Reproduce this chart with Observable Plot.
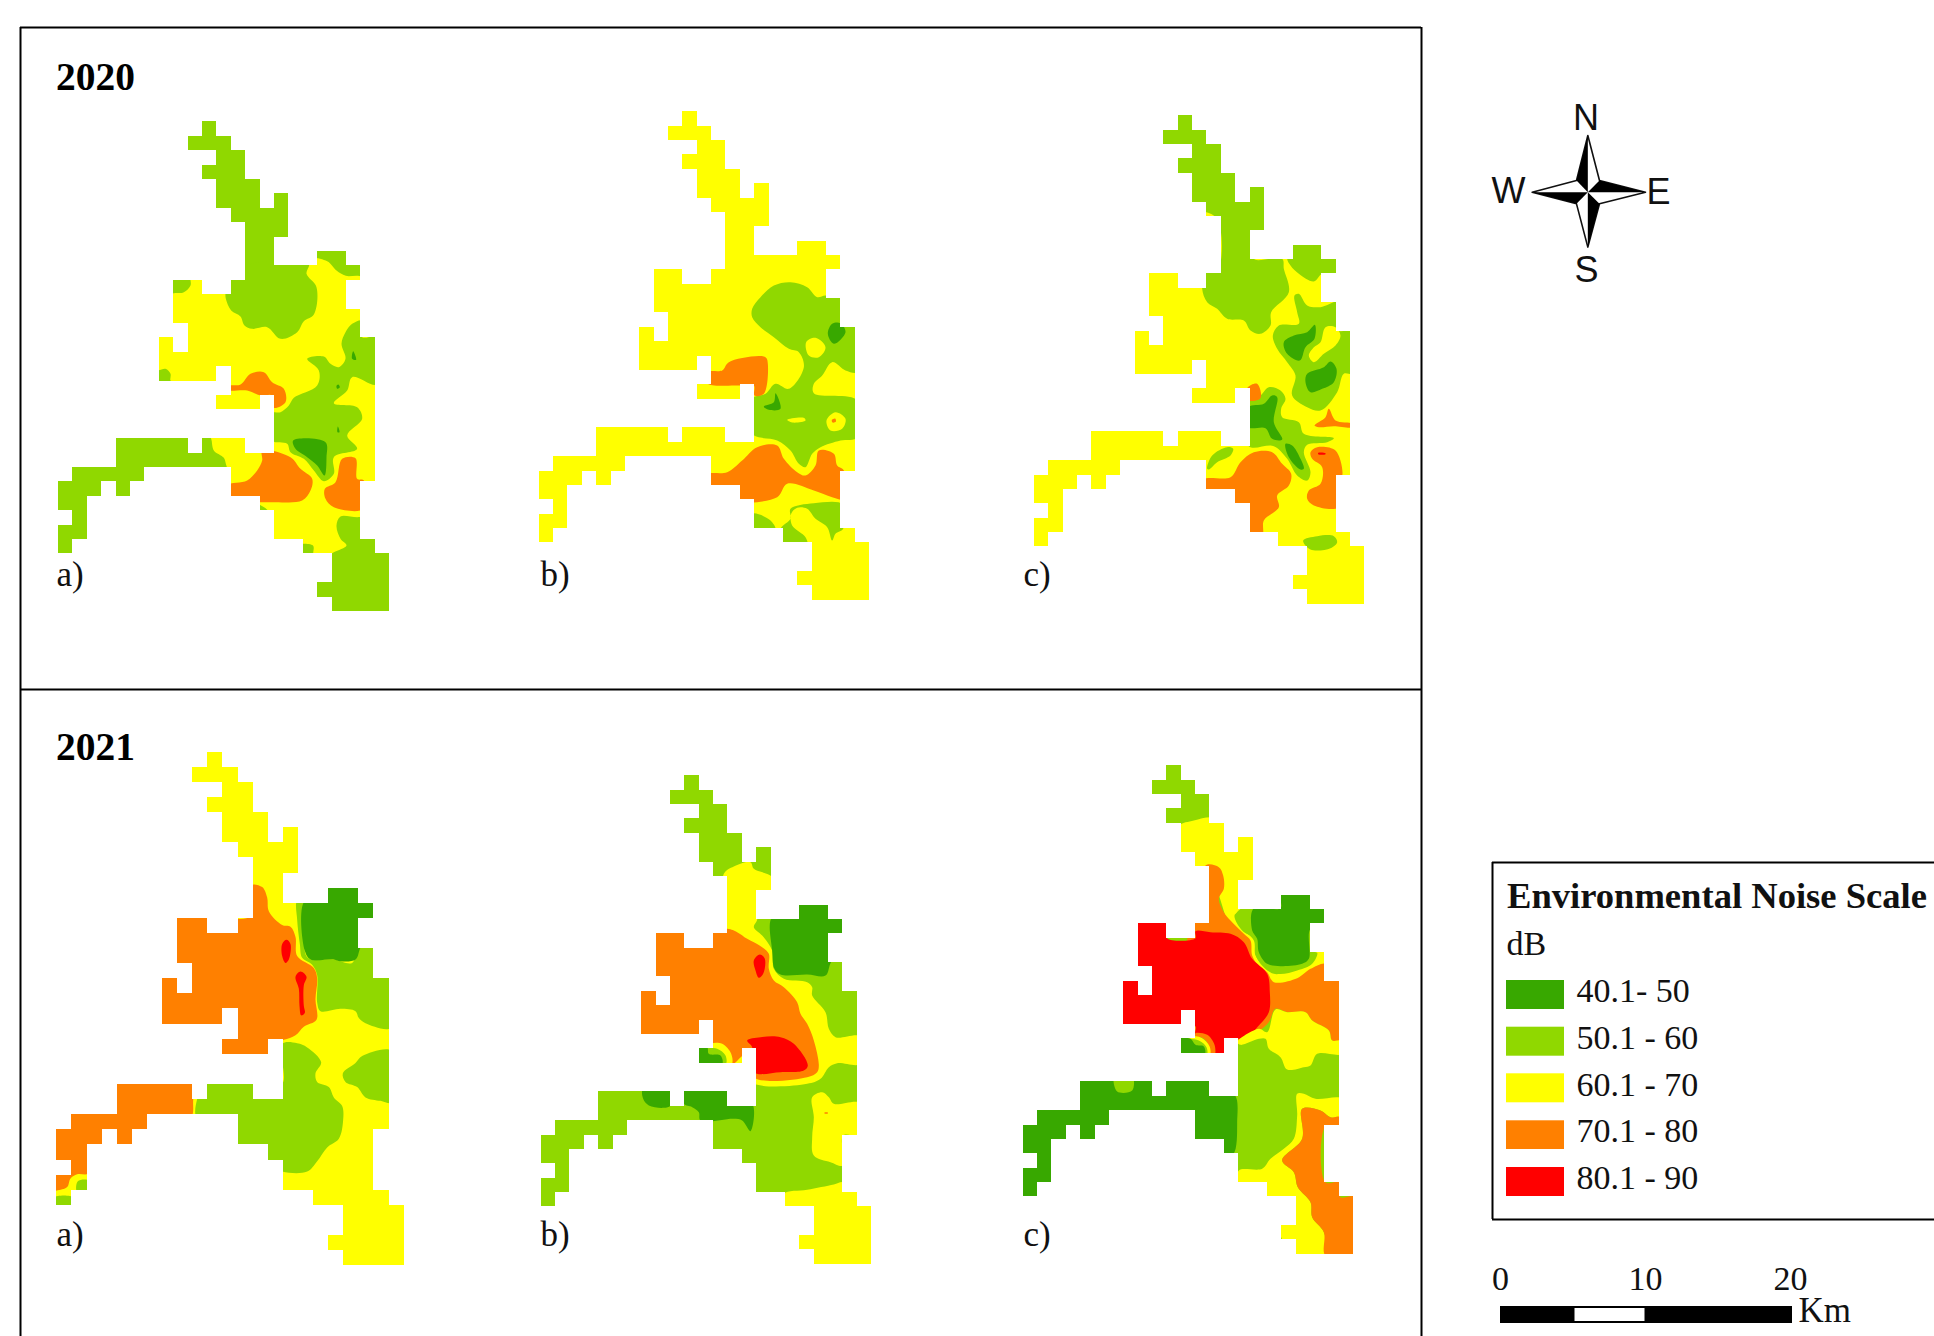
<!DOCTYPE html>
<html><head><meta charset="utf-8">
<script src="https://cdn.jsdelivr.net/npm/d3@7"></script>
<script src="https://cdn.jsdelivr.net/npm/@observablehq/plot@0.6"></script>
<style>html,body{margin:0;padding:0;background:#fff;overflow:hidden}svg{display:block}</style>
</head><body><div id="chart"></div>
<script>
// Noise classes
const levelLabels = ["40.1- 50","50.1 - 60","60.1 - 70","70.1 - 80","80.1 - 90"];
const levelColors = ["#38a800","#90d800","#ffff00","#ff8000","#ff0000"];

// Study-area outline: per grid row, the [start,end) runs of occupied grid columns
const outlineRuns = [
 [[10,11]],[[9,12]],[[11,13]],[[10,13]],[[11,14]],[[11,14],[15,16]],[[12,16]],[[13,16]],[[13,15]],
 [[13,15],[18,20]],[[13,21]],[[8,10],[12,20]],[[8,20]],[[8,21]],[[9,21]],[[7,8],[9,22]],[[7,22]],
 [[7,11],[12,22]],[[12,22]],[[11,14],[15,22]],[[15,22]],[[15,22]],[[4,9],[10,13],[15,22]],[[4,22]],
 [[1,6],[12,22]],[[0,3],[4,5],[12,21]],[[0,2],[14,21]],[[1,2],[15,21]],[[0,2],[15,21]],[[0,1],[17,22]],
 [[19,23]],[[19,23]],[[18,23]],[[19,23]]
];

// Zones: [level index, x,y, x,y, ...] in each map's own coordinates, painted in order
const zones2020a = [
 [2, 345,560,400,548,430,545,450,525,452,490,600,500,700,520,790,480,800,445,860,452,888,480,916,496,965,500,1015,600,1015,1120,965,1120,965,1216,900,1218,888,1245,900,1285,918,1305,880,1325,860,1335,820,1335,818,1306,787,1300,700,1295,690,1210,650,1180,560,1165,560,1075,556,1060,550,1042,520,1020,512,985,500,960,515,860,520,820,400,815,390,810,390,790,375,775,350,778,345,700],
 [1, 555,545,556,565,572,600,600,618,612,645,635,655,680,650,720,685,770,665,790,632,820,612,828,530,798,490,805,460,700,450,600,470,560,500],
 [1, 965,630,935,640,915,665,903,700,915,745,895,770,870,760,850,738,800,745,835,780,830,825,760,862,745,885,720,905,695,908,695,990,740,1000,750,1025,790,1045,820,1080,850,1112,880,1090,880,1040,950,1015,920,975,965,925,950,890,880,878,920,840,935,800,1010,822,1010,680,965,680],
 [0, 758,990,855,995,858,1040,852,1095,830,1065,800,1040,765,1015],
 [0, 938,722,947,748,935,745],[0, 888,826,893,822,898,830,890,835],[0, 892,948,897,965,891,965],
 [3, 560,826,600,822,630,790,670,785,695,815,730,835,735,875,700,892,695,855,660,855,620,840,560,838],
 [3, 560,1125,620,1110,650,1080,665,1050,665,1020,750,1040,780,1075,815,1105,810,1140,785,1170,700,1175,650,1175,560,1165],
 [3, 905,1045,945,1043,950,1105,970,1110,970,1195,880,1190,855,1165,853,1135,885,1115]
];
const zones2020b = [
 [1, 695,625,720,590,760,555,810,545,860,560,890,590,915,585,968,590,1012,680,1012,815,975,810,935,785,905,825,880,850,880,878,1012,900,1012,1010,960,1020,900,1040,875,1060,855,1100,835,1090,810,1050,770,1020,695,1000,695,895,735,880,765,850,805,865,850,800,835,755,805,745,760,710,720,680,695,650],
 [2, 857,725,885,712,915,740,895,770,865,765],
 [2, 918,960,945,935,975,955,965,985,930,990],
 [3, 934,958,944,954,946,964,936,966],
 [2, 800,958,850,952,855,960,815,966],
 [0, 935,670,960,668,975,695,940,730,922,700],
 [0, 730,918,760,905,765,878,780,925,745,928],
 [3, 560,815,605,810,625,785,735,770,742,790,730,880,702,885,700,855,650,855,560,848],
 [3, 560,1122,620,1115,665,1080,710,1040,770,1035,790,1075,830,1115,855,1125,885,1095,895,1050,940,1060,950,1095,970,1110,970,1195,935,1190,880,1170,800,1150,770,1190,660,1200,650,1160,560,1155],
 [1, 810,1225,880,1208,968,1212,968,1285,945,1300,935,1320,920,1280,885,1255,860,1225,830,1222,812,1240,815,1275,855,1310,860,1335,780,1335,780,1285,810,1255],
 [1, 695,1240,750,1260,765,1290,695,1292]
];
const zones2020c = [
 [1, 420,20,740,20,740,380,700,460,785,460,790,490,805,560,752,620,750,660,720,685,690,675,670,645,620,640,590,610,560,590,545,550,555,500,590,500,590,340,510,300,465,210,420,125],
 [1, 815,420,905,420,955,465,955,505,905,505,880,528,835,505,810,480,800,460],
 [1, 822,570,835,565,860,600,900,605,955,590,955,675,1000,675,1000,805,970,805,950,860,900,915,860,905,815,870,825,810,800,770,770,730,757,690,775,660,835,655,830,620],
 [2, 915,665,945,665,960,690,945,720,910,745,880,770,865,750,880,725,900,710],
 [0, 790,710,820,690,860,680,883,658,882,700,855,725,838,765,800,745],
 [0, 860,805,910,785,930,768,948,790,940,830,905,850,870,860,855,830],
 [1, 685,890,720,870,745,845,780,855,795,880,782,910,785,935,835,950,850,985,940,998,920,1010,860,1018,850,1040,870,1100,860,1125,830,1110,800,1060,760,1022,685,1022],
 [0, 685,905,730,895,755,870,770,875,760,950,785,1002,755,1000,735,968,685,965],
 [0, 795,1015,815,1020,840,1060,850,1090,840,1092,805,1055],
 [3, 680,848,710,835,720,878,680,884],
 [3, 882,960,915,935,925,910,945,945,995,955,995,965,940,962,895,965],
 [3, 870,1040,890,1025,945,1035,965,1110,955,1115,955,1205,880,1200,860,1180,865,1155,900,1135,905,1085,875,1060],
 [4, 893,1042,915,1043,915,1046,893,1046],
 [3, 550,1122,630,1115,660,1070,700,1040,755,1040,785,1075,812,1105,805,1140,770,1170,775,1205,730,1245,725,1290,685,1290,640,1200,640,1160,550,1160],
 [1, 560,1090,575,1050,620,1025,638,1030,630,1050,590,1070,565,1092],
 [1, 848,1305,890,1292,940,1292,950,1310,930,1328,870,1332]
];
const zones2021a = [
 [3, 630,420,665,425,680,455,685,495,725,535,750,540,765,570,770,625,820,660,830,690,825,750,828,810,790,830,765,855,730,868,695,870,690,920,535,920,535,830,355,830,355,680,405,510,630,510],
 [4, 725,590,738,578,750,590,745,635,735,645,725,625],
 [4, 765,685,780,670,798,685,790,710,790,770,793,790,782,797,777,770,775,720],
 [1, 770,465,795,465,795,620,810,635,880,635,935,645,955,598,1055,598,1055,832,975,820,955,805,945,785,900,778,840,785,830,760,830,680,815,650,785,630,778,590,770,520],
 [0, 793,465,860,465,855,415,965,415,960,465,1010,465,1005,520,960,600,945,635,900,640,880,635,810,635,793,610],
 [1, 725,880,770,878,800,890,842,933,825,965,830,990,865,1005,880,1035,905,1060,908,1100,895,1155,860,1180,830,1220,800,1250,725,1250,675,1225,675,1185,580,1180,580,1095,470,1095,470,1040,500,985,640,985,725,995],
 [1, 907,965,945,935,965,915,1055,900,1055,1050,1020,1045,975,1035,950,1005,915,990],
 [3, 220,990,458,990,458,1042,450,1095,330,1100,330,1140,285,1180,145,1180,145,1255,110,1258,90,1270,80,1295,49,1305,35,1305,35,1120,90,1075,220,1075],
 [1, 40,1326,100,1326,100,1360,40,1360],
 [1, 112,1278,145,1276,145,1310,110,1310]
];
const zones2021b = [
 [2, 610,340,640,318,690,305,700,325,755,350,760,400,710,420,710,478,700,500,725,525,755,570,760,625,790,655,860,665,875,680,875,705,915,755,925,805,945,830,1020,828,1020,910,950,908,925,920,900,955,860,970,700,970,620,910,610,850,600,515,610,440],
 [3, 620,505,650,515,680,535,725,560,745,580,745,625,760,660,790,680,830,725,840,760,860,790,880,840,895,915,890,935,860,950,700,950,690,870,630,915,630,880,605,855,578,860,540,825,355,825,355,690,400,515],
 [4, 680,840,720,830,780,830,820,850,862,915,850,930,780,935,700,935,695,860],
 [4, 700,600,718,582,733,595,728,640,715,652,705,630],
 [2, 570,848,605,850,632,880,632,915,530,915,530,860],
 [1, 555,862,590,865,615,885,615,912,530,912,530,862],
 [0, 530,860,560,860,565,880,600,885,605,912,530,912],
 [0, 755,470,830,470,830,420,935,420,930,470,980,470,975,520,930,608,915,645,860,642,780,642,762,625,755,570],
 [0, 368,985,450,985,450,1035,430,1042,385,1035,368,1015],
 [0, 490,985,625,985,625,1030,695,1030,690,1112,665,1080,640,1075,540,1080,535,1055,515,1040,490,1030],
 [2, 875,1010,905,995,925,1010,940,1030,1020,1028,1020,1125,968,1125,968,1215,930,1205,880,1185,875,1130,880,1070],
 [3, 912,1056,922,1056,922,1059,912,1059],
 [2, 790,1300,860,1288,940,1272,968,1265,1020,1295,1065,1340,1065,1520,880,1520,830,1470,830,1420,790,1340]
];
const zones2021c = [
 [2, 505,212,550,195,600,185,650,195,745,240,745,385,690,385,690,462,672,480,695,525,730,550,740,610,790,655,850,640,900,620,918,588,950,585,950,630,800,690,700,620,590,350,540,345,500,290],
 [3, 585,330,625,335,638,360,640,400,625,430,640,470,660,495,700,535,720,555,725,600,740,625,770,650,790,680,860,668,900,640,945,625,945,675,995,675,995,855,965,855,955,825,905,795,885,770,830,770,795,760,775,800,740,830,690,860,640,860,600,860,590,835,550,835,545,495,585,495],
 [4, 555,527,600,530,660,535,700,560,725,610,770,655,778,710,775,770,745,810,710,845,680,850,645,852,645,900,605,900,600,860,585,840,555,835,555,812,330,812,330,678,375,630,375,500,470,500,470,548,555,548],
 [2, 770,830,795,762,830,770,885,770,905,795,955,825,965,855,995,855,995,895,920,895,900,930,880,935,830,942,810,905,775,880,765,850,745,850,690,868,680,860,745,820],
 [1, 675,480,695,458,735,458,728,525,745,550,745,600,775,628,820,635,875,622,895,595,920,592,905,625,860,645,800,655,760,630,735,600,730,555,695,520],
 [0, 730,458,810,458,810,410,905,410,905,458,950,458,950,510,900,520,895,610,875,625,810,632,770,625,745,590,740,550,725,525],
 [3, 555,833,590,838,612,868,612,900,595,900,595,870,578,848,555,843],
 [2, 555,842,575,848,597,872,597,900,505,900,505,850],
 [1, 538,850,565,855,588,875,588,900,505,900,505,850],
 [0, 505,850,540,850,555,868,580,873,582,900,505,900],
 [0, 20,1100,75,1050,195,1050,195,960,610,960,610,1010,672,1018,680,1100,668,1197,630,1210,540,1210,400,1200,130,1340,20,1340],
 [1, 312,960,365,960,365,1005,320,1008],
 [2, 685,1245,755,1240,780,1210,820,1180,850,1150,860,1080,860,1015,880,1015,915,1030,995,1030,995,1085,960,1085,930,1065,875,1060,875,1150,815,1215,850,1250,862,1295,900,1340,905,1385,940,1430,945,1500,850,1500,805,1430,770,1330,685,1290],
 [3, 875,1060,930,1065,960,1085,990,1085,990,1112,945,1112,945,1280,990,1280,990,1325,1035,1325,1035,1500,945,1500,940,1430,905,1385,900,1340,862,1295,850,1250,815,1215,875,1150]
];

// Compass star in its own coordinates
const starOutline = [352,135,387,270,525,305,387,340,352,470,318,340,185,305,318,270];
const starBlack = [[352,135,318,270,352,305],[525,305,387,270,352,305],[352,470,387,340,352,305],[185,305,318,340,352,305]];

// Map panels: zone list, base level, crop-to-page transform and grid placement
const panels = [
 {id:"2020a",zones:zones2020a,base:1,cx:40,cy:110,sx:3,sy:3,left:54,top:34,cw:43.2,ch:43.2},
 {id:"2020b",zones:zones2020b,base:2,cx:520,cy:100,sx:3,sy:3,left:56,top:34,cw:43.1,ch:43.1},
 {id:"2020c",zones:zones2020c,base:2,cx:1020,cy:105,sx:3,sy:3,left:42,top:31,cw:43.1,ch:43.1},
 {id:"2021a",zones:zones2021a,base:2,cx:40,cy:740,sx:3,sy:2.9,left:49,top:34,cw:45.3,ch:43.8},
 {id:"2021b",zones:zones2021b,base:1,cx:520,cy:760,sx:3,sy:3,left:62,top:46,cw:43.1,ch:43.1},
 {id:"2021c",zones:zones2021c,base:1,cx:1010,cy:755,sx:3,sy:3,left:38,top:31,cw:43.1,ch:43.1}
];

const panelLabels = [
 {t:"a)",x:56,y:585},{t:"b)",x:540,y:585},{t:"c)",x:1023,y:585},
 {t:"a)",x:56,y:1245},{t:"b)",x:540,y:1245},{t:"c)",x:1023,y:1245}
];
const yearLabels = [{t:"2020",x:55.5,y:89},{t:"2021",x:55.5,y:759}];
const compassLetters = [{t:"N",x:1585.5,y:129},{t:"E",x:1658,y:203},{t:"S",x:1586,y:281},{t:"W",x:1508,y:202}];
const scaleLabels = [{t:"0",x:1500},{t:"10",x:1645},{t:"20",x:1790}];

const Gx = (p,z) => p.cx + z/p.sx, Gy = (p,z) => p.cy + z/p.sy;

const zoneRows = panels.flatMap(p => p.zones.flatMap((zone,i) => {
  const [lev,...c] = zone, out = [];
  for (let k=0;k<c.length;k+=2) out.push({id:p.id+"-"+i,label:levelLabels[lev],x:Gx(p,c[k]),y:Gy(p,c[k+1])});
  return out;
}));
const baseRects = panels.map(p => ({label:levelLabels[p.base],
  x1:Gx(p,p.left),x2:Gx(p,p.left+23*p.cw),y1:Gy(p,p.top),y2:Gy(p,p.top+34*p.ch)}));
// white cover for everything outside the outline, so zones end on the grid
const maskRects = panels.flatMap(p => {
  const out=[], gx=c=>Gx(p,p.left+c*p.cw), gy=r=>Gy(p,p.top+r*p.ch);
  const L=-2,R=25;
  out.push({x1:gx(L),x2:gx(R),y1:gy(-2),y2:gy(0)},{x1:gx(L),x2:gx(R),y1:gy(34),y2:gy(36)});
  outlineRuns.forEach((runs,r)=>{ let at=L;
    for(const [a,b] of runs){ out.push({x1:gx(at),x2:gx(a),y1:gy(r),y2:gy(r+1)}); at=b; }
    out.push({x1:gx(at),x2:gx(R),y1:gy(r),y2:gy(r+1)});
  });
  return out;
});
const compassT = {cx:1470,cy:90,sx:3,sy:3};
const toRows = (arr,id) => { const o=[]; for(let k=0;k<arr.length;k+=2) o.push({id,x:Gx(compassT,arr[k]),y:Gy(compassT,arr[k+1])}); return o; };
const starRows = toRows(starOutline,"o");
const blackRows = starBlack.flatMap((a,i)=>toRows(a,"b"+i));

const legendRows = levelLabels.map((label,i)=>({label,y1:[980,1026.7,1073.3,1120.3,1167][i],y2:[1009,1055.7,1102.3,1149,1196][i],b:[1001.7,1048.4,1095,1141.7,1188.4][i]}));

const serif = "'Liberation Serif', serif", sans = "'Liberation Sans', Arial, sans-serif";
const fig = Plot.plot({
  width:1934,height:1336,margin:0,
  style:{background:"#fff"},
  x:{domain:[0,1934],range:[0,1934],axis:null},
  y:{domain:[0,1336],range:[0,1336],axis:null},
  color:{domain:levelLabels,range:levelColors},
  marks:[
    Plot.rect(baseRects,{x1:"x1",x2:"x2",y1:"y1",y2:"y2",fill:"label",shapeRendering:"crispEdges"}),
    Plot.line(zoneRows,{x:"x",y:"y",z:"id",fill:"label",stroke:"none",curve:"catmull-rom-closed"}),
    Plot.rect(maskRects,{x1:"x1",x2:"x2",y1:"y1",y2:"y2",fill:"#fff",shapeRendering:"crispEdges"}),
    // map frame
    Plot.ruleX([20,1421],{y1:27,y2:1336,stroke:"#000",strokeWidth:2}),
    Plot.ruleY([27,689],{x1:20,x2:1421,stroke:"#000",strokeWidth:2}),
    Plot.text(yearLabels,{x:"x",y:"y",text:"t",textAnchor:"start",lineAnchor:"bottom",fontFamily:serif,fontWeight:"bold",fontSize:39.5,fill:"#000"}),
    Plot.text(panelLabels,{x:"x",y:"y",text:"t",textAnchor:"start",lineAnchor:"bottom",fontFamily:serif,fontSize:35,fill:"#111"}),
    // compass
    Plot.line(starRows,{x:"x",y:"y",z:"id",fill:"#fff",stroke:"#111",strokeWidth:1.6,strokeLinejoin:"round",curve:"linear-closed"}),
    Plot.line(blackRows,{x:"x",y:"y",z:"id",fill:"#000",stroke:"none",curve:"linear-closed"}),
    Plot.text(compassLetters,{x:"x",y:"y",text:"t",lineAnchor:"bottom",fontFamily:sans,fontSize:36,fill:"#111"}),
    // legend
    Plot.ruleX([1492],{y1:862,y2:1219,stroke:"#000",strokeWidth:2}),
    Plot.ruleY([862,1219],{x1:1492,x2:1934,stroke:"#000",strokeWidth:2}),
    Plot.text(["Environmental Noise Scale"],{x:1506.5,y:907,text:d=>d,textAnchor:"start",lineAnchor:"bottom",fontFamily:serif,fontWeight:"bold",fontSize:36.6,fill:"#111"}),
    Plot.text(["dB"],{x:1506,y:954,text:d=>d,textAnchor:"start",lineAnchor:"bottom",fontFamily:serif,fontSize:34,fill:"#111"}),
    Plot.rect(legendRows,{x1:1506,x2:1564,y1:"y1",y2:"y2",fill:"label"}),
    Plot.text(legendRows,{x:1576,y:"b",text:"label",textAnchor:"start",lineAnchor:"bottom",fontFamily:serif,fontSize:34,fill:"#111"}),
    // scale bar
    Plot.rect([0],{x1:1500,x2:1792,y1:1306,y2:1323,fill:"#000"}),
    Plot.rect([0],{x1:1574.5,x2:1644.5,y1:1308,y2:1321,fill:"#fff"}),
    Plot.text(scaleLabels,{x:"x",y:1289,text:"t",lineAnchor:"bottom",fontFamily:serif,fontSize:34,fill:"#111"}),
    Plot.text(["Km"],{x:1798,y:1321,text:d=>d,textAnchor:"start",lineAnchor:"bottom",fontFamily:serif,fontSize:35,fill:"#111"})
  ]
});
document.getElementById("chart").appendChild(fig);
</script></body></html>
